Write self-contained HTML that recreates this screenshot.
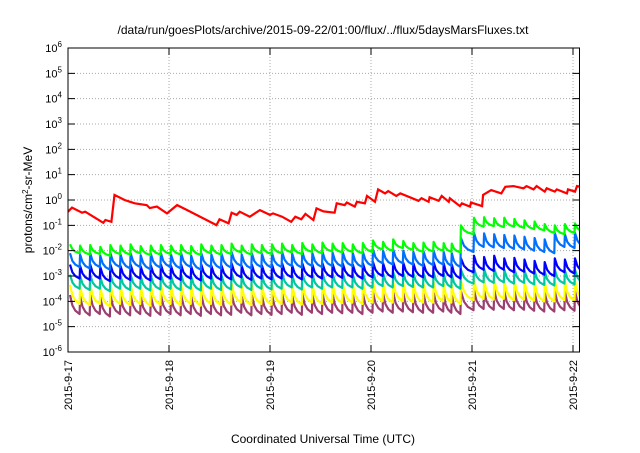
<!DOCTYPE html>
<html><head><meta charset="utf-8"><style>
body{margin:0;background:#fff;font-family:"Liberation Sans",sans-serif}
svg text{font-family:"Liberation Sans",sans-serif;fill:#000}
</style></head><body>
<svg id="chart" width="640" height="448" viewBox="0 0 640 448" xmlns="http://www.w3.org/2000/svg">
<text x="323" y="34" font-size="12" text-anchor="middle">/data/run/goesPlots/archive/2015-09-22/01:00/flux/../flux/5daysMarsFluxes.txt</text>
<text x="323" y="443" font-size="12" text-anchor="middle">Coordinated Universal Time (UTC)</text>
<text transform="translate(32,200) rotate(-90)" font-size="12" text-anchor="middle">protons/cm<tspan baseline-shift="super" font-size="8">2</tspan>-sr-MeV</text>
<g id="grid"></g><g id="series"></g><g id="axes"></g>
</svg>
<script>
const dayLabels=["2015-9-17","2015-9-18","2015-9-19","2015-9-20","2015-9-21","2015-9-22"];
const decadeExps=[-6,-5,-4,-3,-2,-1,0,1,2,3,4,5,6];
const teethT=[0.02,0.12,0.22,0.32,0.42,0.52,0.62,0.72,0.82,0.92,1.02,1.12,1.22,1.32,1.42,1.52,1.62,1.72,1.82,1.92,2.02,2.12,2.22,2.32,2.42,2.52,2.62,2.72,2.82,2.92,3.02,3.12,3.22,3.32,3.42,3.52,3.62,3.72,3.80,3.89,4.02,4.12,4.22,4.32,4.42,4.52,4.62,4.72,4.82,4.92,5.02];
const greenPeaks=[-1.75,-1.8,-1.78,-1.85,-1.78,-1.8,-1.75,-1.82,-1.8,-1.78,-1.8,-1.78,-1.82,-1.75,-1.8,-1.78,-1.72,-1.8,-1.75,-1.78,-1.75,-1.72,-1.78,-1.7,-1.75,-1.68,-1.72,-1.7,-1.75,-1.7,-1.6,-1.65,-1.55,-1.62,-1.7,-1.68,-1.65,-1.7,-1.72,-1.0,-0.7,-0.68,-0.72,-0.7,-0.75,-0.8,-0.85,-0.95,-1.0,-0.95,-0.92];
const lightBluePeaks=[-2.1,-2.15,-2.1,-2.2,-2.1,-2.15,-2.1,-2.18,-2.12,-2.1,-2.15,-2.1,-2.2,-2.1,-2.15,-2.12,-2.05,-2.15,-2.1,-2.12,-2.1,-2.05,-2.12,-2.05,-2.1,-2.05,-2.08,-2.05,-2.1,-2.05,-1.95,-2.0,-1.95,-2.0,-2.05,-2.02,-2.0,-2.05,-2.1,-1.5,-1.3,-1.32,-1.35,-1.38,-1.4,-1.45,-1.5,-1.55,-1.3,-1.35,-1.3];
const bluePeaks=[-2.55,-2.6,-2.55,-2.65,-2.55,-2.6,-2.55,-2.62,-2.58,-2.55,-2.6,-2.55,-2.62,-2.55,-2.6,-2.58,-2.5,-2.6,-2.55,-2.58,-2.55,-2.5,-2.58,-2.5,-2.55,-2.5,-2.52,-2.5,-2.55,-2.5,-2.45,-2.5,-2.45,-2.48,-2.5,-2.5,-2.45,-2.5,-2.55,-2.3,-2.2,-2.25,-2.2,-2.3,-2.28,-2.35,-2.4,-2.45,-2.3,-2.35,-2.3];
const tealPeaks=[-2.95,-3.0,-2.95,-3.05,-2.95,-3.0,-2.95,-3.02,-2.98,-2.95,-3.0,-2.95,-3.02,-2.95,-3.0,-2.98,-2.9,-3.0,-2.95,-2.98,-2.95,-2.9,-2.98,-2.9,-2.95,-2.9,-2.92,-2.9,-2.95,-2.9,-2.85,-2.9,-2.85,-2.88,-2.9,-2.9,-2.85,-2.9,-2.95,-2.75,-2.7,-2.72,-2.7,-2.75,-2.72,-2.78,-2.8,-2.82,-2.75,-2.78,-2.75];
const yellowPeaks=[-3.35,-3.4,-3.35,-3.45,-3.35,-3.4,-3.35,-3.42,-3.38,-3.35,-3.4,-3.35,-3.42,-3.35,-3.4,-3.38,-3.3,-3.4,-3.35,-3.38,-3.35,-3.3,-3.38,-3.3,-3.35,-3.3,-3.32,-3.3,-3.35,-3.3,-3.25,-3.3,-3.25,-3.28,-3.3,-3.3,-3.25,-3.3,-3.35,-3.2,-3.15,-3.18,-3.15,-3.2,-3.18,-3.22,-3.25,-3.25,-3.2,-3.22,-3.2];
const purplePeaks=[-3.75,-3.8,-3.75,-3.85,-3.75,-3.8,-3.75,-3.82,-3.78,-3.75,-3.8,-3.75,-3.82,-3.75,-3.8,-3.78,-3.7,-3.8,-3.75,-3.78,-3.75,-3.7,-3.78,-3.7,-3.75,-3.7,-3.72,-3.7,-3.75,-3.7,-3.65,-3.7,-3.65,-3.68,-3.7,-3.7,-3.65,-3.7,-3.75,-3.6,-3.55,-3.58,-3.55,-3.6,-3.58,-3.62,-3.65,-3.65,-3.6,-3.62,-3.6];
const seriesDrops=[0.35,0.55,0.55,0.55,0.75,0.75];
const redT=[0,0.04,0.14,0.17,0.35,0.37,0.43,0.46,0.56,0.66,0.78,0.81,0.88,0.98,1.08,1.18,1.47,1.50,1.59,1.62,1.67,1.70,1.80,1.90,2.00,2.03,2.12,2.21,2.25,2.31,2.35,2.43,2.46,2.53,2.64,2.66,2.74,2.76,2.84,2.86,2.94,2.96,3.04,3.07,3.14,3.17,3.25,3.29,3.47,3.50,3.57,3.58,3.67,3.70,3.77,3.78,3.88,3.90,3.98,3.99,4.10,4.11,4.19,4.29,4.33,4.41,4.51,4.54,4.61,4.64,4.72,4.74,4.82,4.84,4.94,4.95,5.02,5.04,5.09];
const redV=[-0.46,-0.30,-0.50,-0.46,-0.90,-0.79,-0.86,0.20,0.0,-0.13,-0.20,-0.32,-0.26,-0.53,-0.2,-0.40,-0.99,-0.76,-0.92,-0.50,-0.59,-0.46,-0.66,-0.40,-0.59,-0.53,-0.66,-0.86,-0.66,-0.76,-0.55,-0.79,-0.33,-0.45,-0.50,-0.13,-0.2,-0.1,-0.26,-0.07,-0.13,0.16,-0.07,0.42,0.26,0.35,0.16,0.26,-0.03,0.07,-0.07,0.11,-0.03,0.16,-0.07,0.07,-0.24,-0.13,-0.26,-0.10,-0.24,0.20,0.39,0.26,0.52,0.55,0.46,0.55,0.42,0.55,0.33,0.46,0.33,0.42,0.26,0.42,0.33,0.55,0.5];
const L=68,R=579.5,T=48,B=352;
const X=t=>L+t*101, Y=e=>T+(6-e)*(B-T)/12;
const NS="http://www.w3.org/2000/svg";
function mk(tag,attrs,parent){const el=document.createElementNS(NS,tag);for(const k in attrs)el.setAttribute(k,attrs[k]);parent.appendChild(el);return el;}
const grid=document.getElementById('grid'),axes=document.getElementById('axes'),ser=document.getElementById('series');
decadeExps.forEach(e=>{
  const y=Y(e);
  if(e>-6&&e<6){const g=mk('line',{x1:L,x2:R,y1:y,y2:y,stroke:'#aaa','stroke-dasharray':'1,2','stroke-width':1},grid);
  
  }
  const tk=mk('path',{d:`M${L},${y}h7M${R},${y}h-7`,stroke:'#000','stroke-width':1},axes);
  
  
  const tx=mk('text',{x:L-6,y:y+4,'font-size':11,'text-anchor':'end'},axes);
  
  
  tx.textContent='10';
  const sp=mk('tspan',{dy:-5,'font-size':8},tx);sp.textContent=String(e);
});
dayLabels.forEach((lab,i)=>{
  const x=X(i);
  if(i>0&&x<R-1){const g=mk('line',{x1:x,x2:x,y1:T,y2:B,stroke:'#aaa','stroke-dasharray':'1,2','stroke-width':1},grid);
  
  }
  const tk=mk('path',{d:`M${x},${B}v-7M${x},${T}v7`,stroke:'#000','stroke-width':1},axes);
  
  
  const tx=mk('text',{transform:`translate(${x+4},${B+8}) rotate(-90)`,'font-size':11,'text-anchor':'end'},axes);
  
  
  tx.textContent=lab;
});
const fr=mk('rect',{x:L,y:T,width:R-L,height:B-T,fill:'none',stroke:'#000','stroke-width':1},axes);


mk('clipPath',{id:'clp'},ser);
mk('rect',{x:L,y:T,width:R-L,height:B-T},document.getElementById('clp'));
const allPeaks=[purplePeaks,yellowPeaks,tealPeaks,bluePeaks,lightBluePeaks,greenPeaks];
const dropsOrdered=[seriesDrops[5],seriesDrops[4],seriesDrops[3],seriesDrops[2],seriesDrops[1],seriesDrops[0]];
const colors=['#9a3f6f','#ffff00','#00c8a0','#0000ff','#0070ff','#00ff00'];
const names=['series-purple','series-yellow','series-teal','series-blue','series-lightblue','series-green'];
allPeaks.forEach((pk,si)=>{
  let d='';
  const dr=dropsOrdered[si];
  pk.forEach((v,k)=>{
    const t0=teethT[k],t1=(k+1<teethT.length?teethT[k+1]:teethT[k]+0.1)-0.005;
    const tm1=t0+(t1-t0)*0.25,tm2=t0+(t1-t0)*0.55;
    d+=(k?'L':'M')+X(t0).toFixed(1)+','+Y(v).toFixed(1)
      +'L'+X(tm1).toFixed(1)+','+Y(v-dr*0.55).toFixed(1)
      +'L'+X(tm2).toFixed(1)+','+Y(v-dr*0.82).toFixed(1)
      +'L'+X(t1).toFixed(1)+','+Y(v-dr).toFixed(1);
  });
  const p=mk('path',{d:d,fill:'none',stroke:colors[si],'stroke-width':2.2,'stroke-linejoin':'round','clip-path':'url(#clp)'},ser);
  
  
});
let rd='';redT.forEach((t,i)=>{rd+=(i?'L':'M')+X(t).toFixed(1)+','+Y(redV[i]).toFixed(1);});
const rp=mk('path',{d:rd,fill:'none',stroke:'#ff0000','stroke-width':2.2,'clip-path':'url(#clp)'},ser);


</script>
</body></html>
